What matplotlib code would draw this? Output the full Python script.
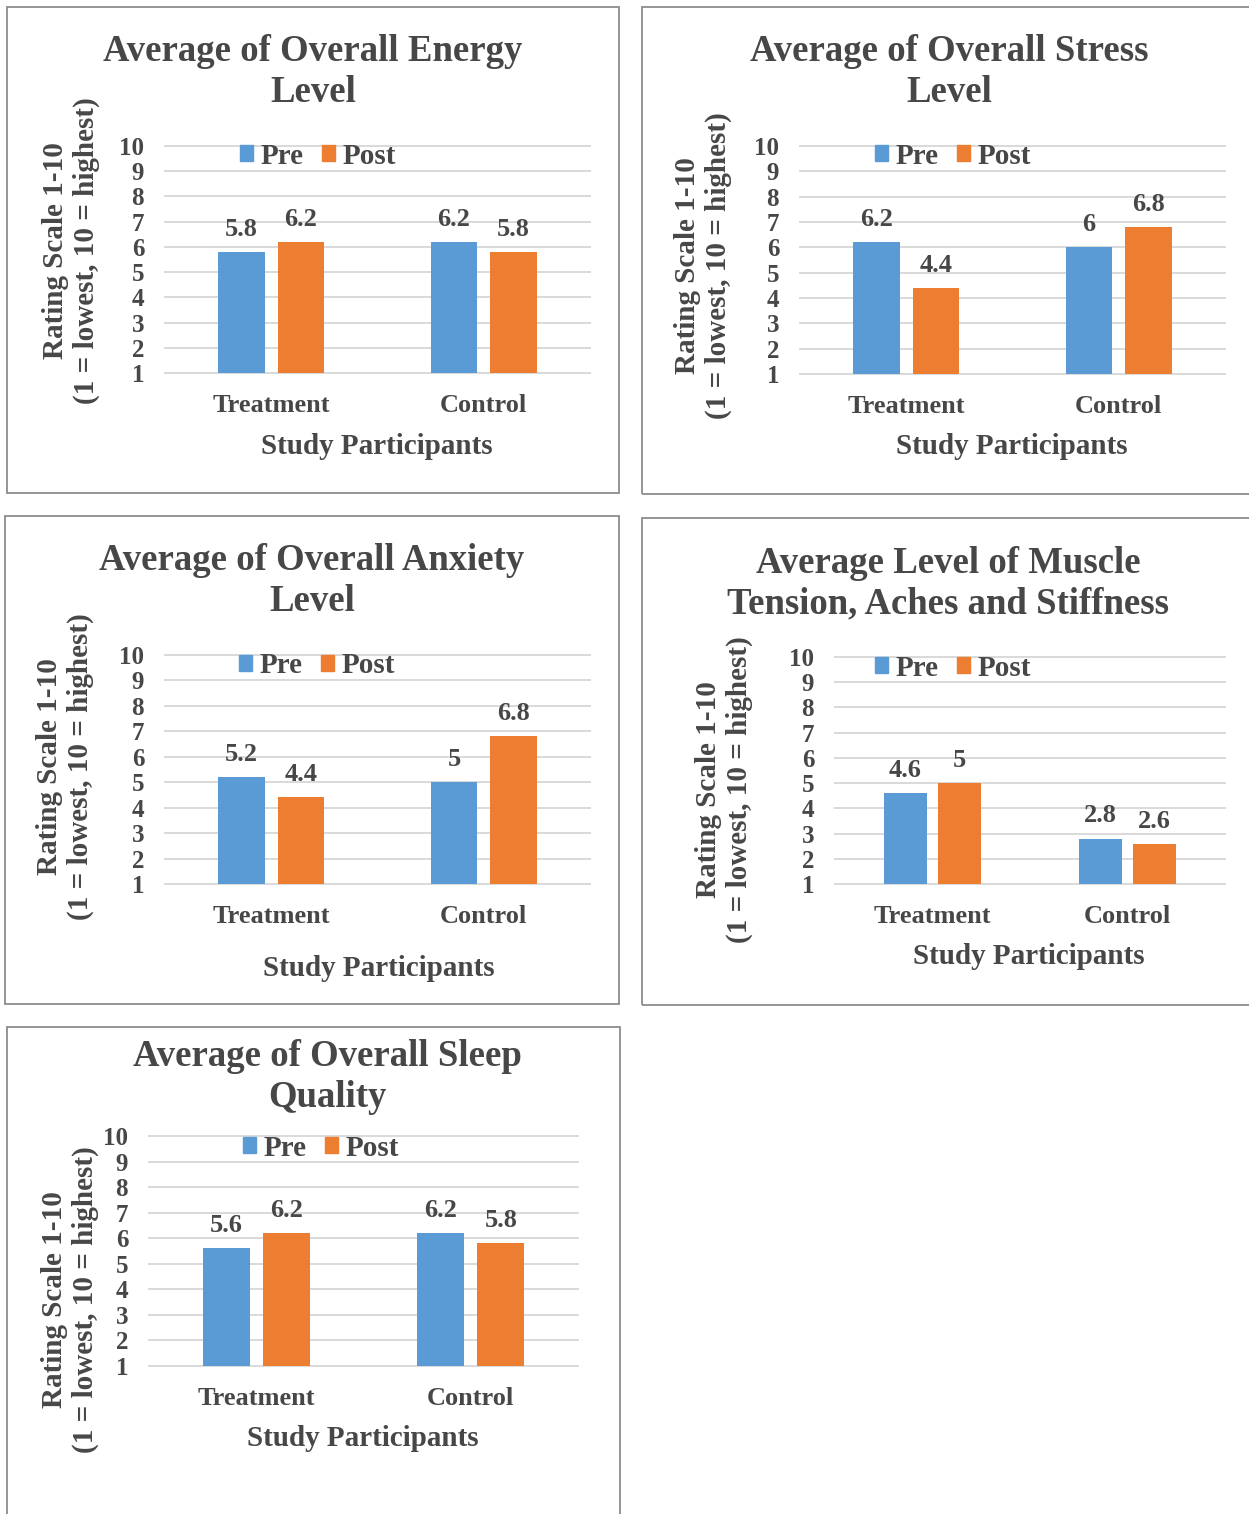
import numpy as np
import matplotlib
matplotlib.use("Agg")
import matplotlib.pyplot as plt
from matplotlib.patches import Rectangle, Patch

plt.rcParams['font.family'] = ['Liberation Serif', 'DejaVu Serif']
plt.rcParams['font.weight'] = 'bold'

# data
groups = ["Treatment", "Control"]
series = ["Pre", "Post"]
titles = [
    "Average of Overall Energy\nLevel",
    "Average of Overall Stress\nLevel",
    "Average of Overall Anxiety\nLevel",
    "Average Level of Muscle\nTension, Aches and Stiffness",
    "Average of Overall Sleep\nQuality",
]
energy_pre = [5.8, 6.2]
energy_post = [6.2, 5.8]
stress_pre = [6.2, 6.0]
stress_post = [4.4, 6.8]
anxiety_pre = [5.2, 5.0]
anxiety_post = [4.4, 6.8]
muscle_pre = [4.6, 2.8]
muscle_post = [5.0, 2.6]
sleep_pre = [5.6, 6.2]
sleep_post = [6.2, 5.8]
yticks = list(range(1, 11))
xlabel = "Study Participants"
ylabel = "Rating Scale 1-10\n(1 = lowest, 10 = highest)"

pre_vals = [energy_pre, stress_pre, anxiety_pre, muscle_pre, sleep_pre]
post_vals = [energy_post, stress_post, anxiety_post, muscle_post, sleep_post]

BLUE = "#5B9BD5"
ORANGE = "#ED7D31"
TXT = "#474747"
GRID = "#D9D9D9"

W, H = 1249, 1514

# layout in pixels: box, axes x-range, axes y-range (10, 1), title (cx, cy), legend, xlabel, ylabel
layout = [
    dict(box=(7, 7, 619, 493), ax=(165, 590), ay=(146, 373), title=(313, 72),
         leg=(318, 156), xl=(377, 446), yl=(71, 251)),
    dict(box=(642, 7, 1253, 494), ax=(800, 1225), ay=(146, 374), title=(949, 72),
         leg=(953, 156), xl=(1012, 446), yl=(703, 266)),
    dict(box=(5, 516, 619, 1004), ax=(165, 590), ay=(655, 884), title=(312, 581),
         leg=(317, 666), xl=(379, 968), yl=(65, 767)),
    dict(box=(642, 518, 1253, 1005), ax=(835, 1225), ay=(657, 884), title=(948, 584),
         leg=(953, 668), xl=(1029, 957), yl=(724, 790)),
    dict(box=(7, 1027, 620, 1520), ax=(149, 578), ay=(1136, 1366), title=(327, 1077),
         leg=(321, 1148), xl=(363, 1439), yl=(70, 1300)),
]

fig = plt.figure(figsize=(W / 100, H / 100), dpi=100)


def fx(x):
    return x / W


def fy(y):
    return 1 - y / H


for i, L in enumerate(layout):
    x0, y0, x1, y1 = L['box']
    fig.patches.append(Rectangle((fx(x0), fy(y1)), fx(x1 - x0), (y1 - y0) / H,
                                 transform=fig.transFigure, fill=False,
                                 edgecolor="#8C8C8C", lw=1.3))
    ax0, ax1 = L['ax']
    ayt, ayb = L['ay']
    ax = fig.add_axes([fx(ax0), fy(ayb), fx(ax1 - ax0), (ayb - ayt) / H])

    xs = np.arange(len(groups))
    bw = 0.22
    off = 0.14
    b1 = ax.bar(xs - off, pre_vals[i], bw, color=BLUE, zorder=3)
    b2 = ax.bar(xs + off, post_vals[i], bw, color=ORANGE, zorder=3)
    for bars, vals in ((b1, pre_vals[i]), (b2, post_vals[i])):
        for b, v in zip(bars, vals):
            ax.annotate(f"{v:g}", (b.get_x() + b.get_width() / 2, v),
                        xytext=(0, 8), textcoords="offset points",
                        ha="center", va="bottom", fontsize=19, color=TXT,
                        fontweight="bold")

    ax.set_xlim(-0.5, len(groups) - 0.5)
    ax.set_ylim(1, 10)
    ax.set_yticks(yticks)
    ax.set_xticks(xs)
    ax.set_xticklabels(groups)
    ax.tick_params(axis="y", length=0, pad=15, labelsize=18, labelcolor=TXT)
    ax.tick_params(axis="x", length=0, pad=15, labelsize=19, labelcolor=TXT)
    for s in ax.spines.values():
        s.set_visible(False)
    ax.yaxis.grid(True, color=GRID, lw=1.4, zorder=0)
    for gl in ax.get_ygridlines():
        gl.set_clip_on(False)
    ax.set_axisbelow(True)

    tx, ty = L['title']
    fig.text(fx(tx), fy(ty), titles[i], ha="center", va="center", fontsize=26.5,
             color=TXT, linespacing=1.2, fontweight="bold")
    lx, ly = L['leg']
    handles = [Patch(color=BLUE, label=series[0]), Patch(color=ORANGE, label=series[1])]
    ax.legend(handles=handles, loc="center", bbox_to_anchor=(fx(lx), fy(ly)),
              bbox_transform=fig.transFigure, ncol=2, frameon=False,
              prop={'size': 21, 'weight': 'bold'}, labelcolor=TXT,
              handlelength=0.45, handleheight=0.45, handletextpad=0.25,
              columnspacing=0.65, borderpad=0, borderaxespad=0)
    xx, xy = L['xl']
    fig.text(fx(xx), fy(xy), xlabel, ha="center", va="center", fontsize=21,
             color=TXT, fontweight="bold")
    yx, yy = L['yl']
    fig.text(fx(yx), fy(yy), ylabel, ha="center", va="center", fontsize=21,
             color=TXT, rotation=90, linespacing=1.2, multialignment="center",
             fontweight="bold")

plt.savefig("out.png", dpi=100)
